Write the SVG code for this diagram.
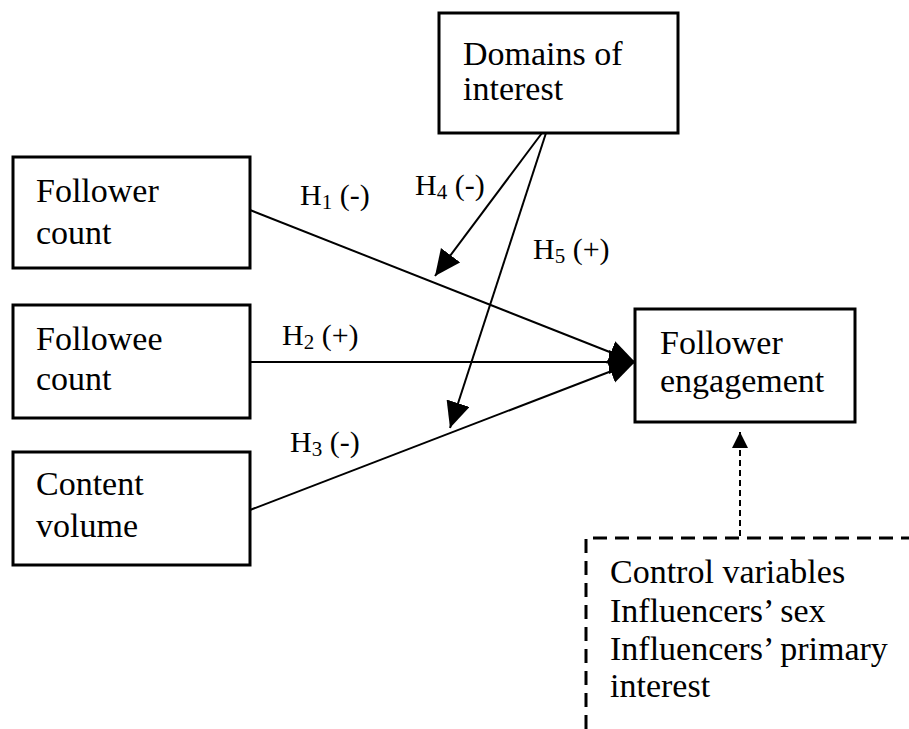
<svg xmlns="http://www.w3.org/2000/svg" width="909" height="729" viewBox="0 0 909 729">
<defs>
<style>
.box{fill:#fff;stroke:#000;stroke-width:3}
.t{font-family:"Liberation Serif","Times New Roman",serif;font-size:34px;fill:#000}
.lbl{font-family:"Liberation Serif","Times New Roman",serif;font-size:30px;fill:#000}
.sub{font-size:21px}
.ln{stroke:#000;stroke-width:2;fill:none}
</style>
<marker id="ah" markerUnits="userSpaceOnUse" markerWidth="30" markerHeight="26" refX="26" refY="12" orient="auto">
<path d="M0,0 L26,12 L0,24 Z" fill="#000"/>
</marker>
<marker id="ahs" markerUnits="userSpaceOnUse" markerWidth="20" markerHeight="18" refX="16" refY="8" orient="auto">
<path d="M0,0 L16,8 L0,16 Z" fill="#000"/>
</marker>
</defs>
<rect width="909" height="729" fill="#fff"/>
<g id="connectors">
<line class="ln" x1="250" y1="210" x2="635" y2="362" marker-end="url(#ah)"/>
<line class="ln" x1="250" y1="362" x2="635" y2="362" marker-end="url(#ah)"/>
<line class="ln" x1="250" y1="510" x2="635" y2="362" marker-end="url(#ah)"/>
<line class="ln" x1="542" y1="133" x2="435" y2="276" marker-end="url(#ah)"/>
<line class="ln" x1="546" y1="133" x2="450" y2="428" marker-end="url(#ah)"/>
<line x1="740" y1="536" x2="740" y2="432" stroke="#000" stroke-width="2" stroke-dasharray="6 4" marker-end="url(#ahs)"/>
<text class="lbl" x="300" y="205">H<tspan class="sub" dy="4">1</tspan><tspan dy="-4"> (-)</tspan></text>
<text class="lbl" x="282" y="345">H<tspan class="sub" dy="4">2</tspan><tspan dy="-4"> (+)</tspan></text>
<text class="lbl" x="290" y="452">H<tspan class="sub" dy="4">3</tspan><tspan dy="-4"> (-)</tspan></text>
<text class="lbl" x="415" y="195">H<tspan class="sub" dy="4">4</tspan><tspan dy="-4"> (-)</tspan></text>
<text class="lbl" x="533" y="259">H<tspan class="sub" dy="4">5</tspan><tspan dy="-4"> (+)</tspan></text>
</g>
<g id="domains">
<rect class="box" x="439" y="13" width="239" height="120"/>
<text class="t" x="463" y="65">Domains of</text>
<text class="t" x="463" y="100">interest</text>
</g>
<g id="follower-count">
<rect class="box" x="13" y="157" width="237" height="111"/>
<text class="t" x="36" y="202">Follower</text>
<text class="t" x="36" y="244">count</text>
</g>
<g id="followee-count">
<rect class="box" x="13" y="305" width="237" height="113"/>
<text class="t" x="36" y="350">Followee</text>
<text class="t" x="36" y="390">count</text>
</g>
<g id="content-volume">
<rect class="box" x="13" y="452" width="237" height="113"/>
<text class="t" x="36" y="495">Content</text>
<text class="t" x="36" y="537">volume</text>
</g>
<g id="follower-engagement">
<rect class="box" x="635" y="309" width="220" height="113"/>
<text class="t" x="660" y="354">Follower</text>
<text class="t" x="660" y="392">engagement</text>
</g>
<g id="control-variables">
<path d="M586,729 L586,538 L909,538" fill="none" stroke="#000" stroke-width="3" stroke-dasharray="14 8"/>
<text class="t" x="610" y="583">Control variables</text>
<text class="t" x="610" y="622">Influencers’ sex</text>
<text class="t" x="610" y="660">Influencers’ primary</text>
<text class="t" x="610" y="697">interest</text>
</g>
</svg>
